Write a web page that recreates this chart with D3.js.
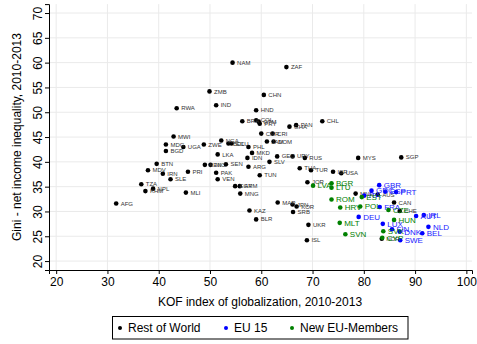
<!DOCTYPE html>
<html>
<head>
<meta charset="utf-8">
<script src="https://cdn.jsdelivr.net/npm/d3@7"></script>
<style>
  body { margin: 0; background: #fff; }
  svg { display: block; font-family: "Liberation Sans", Arial, sans-serif; }
</style>
</head>
<body>
<svg id="chart" width="477" height="344"></svg>
<script>
// [country, KOF index, Gini]
const restOfWorld = [
  ["NAM", 54.4, 60.0], ["ZAF", 64.9, 59.1], ["ZMB", 49.9, 54.2], ["CHN", 60.5, 53.5],
  ["IND", 51.2, 51.4], ["RWA", 43.5, 50.8], ["HND", 59.0, 50.4], ["BRA", 56.3, 48.2],
  ["COL", 59.0, 48.4], ["GTM", 59.5, 48.1], ["PRY", 59.7, 47.7], ["GHA", 65.5, 47.1],
  ["PAN", 66.8, 47.4], ["CHL", 71.9, 48.2], ["CMR", 60.0, 45.7], ["CRI", 62.2, 45.7],
  ["JAM", 61.1, 44.1], ["DOM", 62.4, 44.1], ["MWI", 42.9, 45.1], ["MDG", 41.4, 43.5],
  ["UGA", 44.8, 43.0], ["BGD", 41.4, 42.2], ["ZWE", 48.8, 43.5], ["NGA", 52.2, 44.3],
  ["BOL", 53.6, 43.7], ["ECU", 54.2, 43.7], ["PHL", 57.5, 43.0], ["MKD", 58.2, 41.8],
  ["LKA", 51.5, 41.5], ["IDN", 57.3, 40.8], ["GEO", 63.1, 41.1], ["URY", 66.1, 41.1],
  ["RUS", 68.5, 40.8], ["MYS", 78.9, 40.8], ["SGP", 87.3, 40.9], ["SLV", 61.6, 40.0],
  ["BTN", 39.6, 39.6], ["SEN", 53.1, 39.5], ["KEN", 49.0, 39.4], ["NIC", 50.1, 39.4],
  ["ARG", 57.5, 39.0], ["THA", 67.5, 38.7], ["TUR", 69.7, 38.3], ["ISR", 74.0, 38.0],
  ["USA", 75.6, 37.7], ["MDV", 37.9, 38.3], ["PRI", 45.7, 38.0], ["PAK", 51.2, 37.8],
  ["IRN", 40.8, 37.6], ["TUN", 59.7, 37.3], ["SLE", 42.3, 36.5], ["VEN", 51.5, 36.5],
  ["JOR", 69.0, 35.9], ["TZA", 36.6, 35.5], ["EGY", 54.9, 35.1], ["ARM", 55.8, 35.1],
  ["NPL", 38.9, 34.6], ["KHM", 37.4, 34.1], ["MNG", 55.9, 33.6], ["MLI", 45.3, 33.8],
  ["MNE", 78.4, 33.6], ["AUS", 82.7, 33.4], ["CAN", 85.9, 31.8], ["CHE", 87.0, 30.1],
  ["AFG", 31.7, 31.6], ["MAR", 63.2, 31.8], ["JPN", 66.1, 31.4], ["KOR", 66.9, 31.0],
  ["SRB", 66.2, 29.9], ["KAZ", 57.7, 30.2], ["BLR", 59.0, 28.4], ["UKR", 69.2, 27.3],
  ["ISL", 68.9, 24.2], ["NOR", 83.5, 24.5]
];
const eu15 = [
  ["GBR", 83.0, 35.3], ["ESP", 84.2, 34.0], ["PRT", 86.3, 33.9], ["GRC", 81.5, 34.2],
  ["ITA", 80.1, 33.2], ["FRA", 83.1, 30.9], ["DEU", 79.0, 28.9], ["AUT", 90.2, 29.1],
  ["IRL", 91.7, 29.3], ["LUX", 83.7, 27.5], ["FIN", 85.5, 26.4], ["DNK", 87.0, 25.9],
  ["SWE", 87.1, 24.2], ["NLD", 92.6, 26.9], ["BEL", 91.4, 25.6]
];
const newMembers = [
  ["LVA", 70.1, 35.2], ["BGR", 73.7, 35.7], ["LTU", 73.7, 34.8], ["ROM", 73.7, 32.4],
  ["EST", 79.6, 32.9], ["HRV", 75.4, 30.8], ["POL", 79.3, 31.0], ["MLT", 75.3, 27.7],
  ["SVN", 76.4, 25.4], ["CZE", 84.8, 30.3], ["HUN", 85.9, 28.3], ["SVK", 83.8, 26.0],
  ["CYP", 83.6, 24.7]
];
const xTicks = [20, 30, 40, 50, 60, 70, 80, 90, 100];
const yTicks = [20, 25, 30, 35, 40, 45, 50, 55, 60, 65, 70];
const groups = [
  { name: "Rest of World", data: restOfWorld, color: "#000", label: "#333", size: 6 },
  { name: "EU 15", data: eu15, color: "#0000ff", label: "#1a1aff", size: 8 },
  { name: "New EU-Members", data: newMembers, color: "#008000", label: "#008000", size: 8 }
];

const svg = d3.select("#chart");

const x = d3.scaleLinear().domain([18.6, 101.1]).range([49, 472]);
const y = d3.scaleLinear().domain([18.2, 71.8]).range([270, 4.1]);

// grid
svg.append("g")
  .attr("stroke", "#eaeaea")
  .attr("stroke-width", 1)
  .call(g => g.selectAll(".v").data(xTicks).join("line")
    .attr("x1", d => x(d)).attr("x2", d => x(d))
    .attr("y1", y.range()[1]).attr("y2", y.range()[0]))
  .call(g => g.selectAll(".h").data(yTicks).join("line")
    .attr("y1", d => y(d)).attr("y2", d => y(d))
    .attr("x1", x.range()[0]).attr("x2", x.range()[1]));

// axes
svg.append("g")
  .attr("transform", `translate(0,${y.range()[0]})`)
  .call(d3.axisBottom(x).tickValues(xTicks).tickSizeOuter(0).tickSize(4).tickPadding(3))
  .call(g => g.selectAll("text").attr("font-size", 12).attr("fill", "#000").attr("font-family", null))
  .call(g => g.selectAll("line,path").attr("stroke", "#000"));

svg.append("g")
  .attr("transform", `translate(${x.range()[0]},0)`)
  .call(d3.axisLeft(y).tickValues(yTicks).tickSizeOuter(0).tickSize(4))
  .call(g => g.selectAll("line,path").attr("stroke", "#000"))
  .call(g => g.selectAll("text")
    .attr("font-size", 12).attr("fill", "#000").attr("font-family", null)
    .attr("transform", "rotate(-90)")
    .attr("text-anchor", "middle")
    .attr("x", 0).attr("y", -7).attr("dy", 0));

// axis titles
svg.append("text")
  .attr("x", 260).attr("y", 306)
  .attr("text-anchor", "middle")
  .attr("font-size", 12)
  .text("KOF index of globalization, 2010-2013");

svg.append("text")
  .attr("transform", `translate(21,${y(45)}) rotate(-90)`)
  .attr("text-anchor", "middle")
  .attr("font-size", 12)
  .text("Gini - net income inequality, 2010-2013");

// points + labels, drawn group by group
groups.forEach(gr => {
  const g = svg.append("g");
  g.selectAll("circle")
    .data(gr.data)
    .join("circle")
      .attr("cx", d => x(d[1]))
      .attr("cy", d => y(d[2]))
      .attr("r", 2.3)
      .attr("fill", gr.color);
  g.selectAll("text")
    .data(gr.data)
    .join("text")
      .attr("x", d => x(d[1]) + 4.5)
      .attr("y", d => y(d[2]))
      .attr("dy", "0.35em")
      .attr("font-size", gr.size)
      .attr("fill", gr.label)
      .text(d => d[0]);
});

// legend
const legend = svg.append("g");
legend.append("rect")
  .attr("x", 112.5).attr("y", 316.5)
  .attr("width", 295.5).attr("height", 22.5)
  .attr("fill", "#fff")
  .attr("stroke", "#000");
const legendX = [120, 226, 292];
groups.forEach((gr, i) => {
  legend.append("circle")
    .attr("cx", legendX[i]).attr("cy", 328)
    .attr("r", 2)
    .attr("fill", gr.color);
  legend.append("text")
    .attr("x", legendX[i] + 8).attr("y", 328)
    .attr("dy", "0.35em")
    .attr("font-size", 12)
    .text(gr.name);
});
</script>
</body>
</html>
